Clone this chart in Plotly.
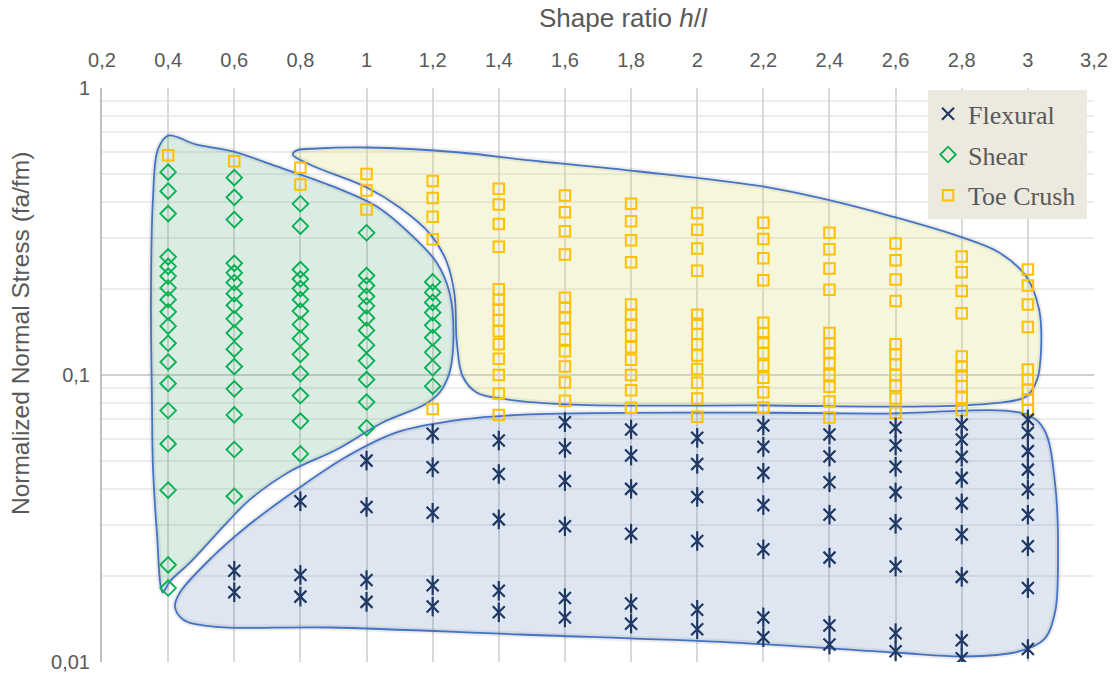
import plotly.graph_objects as go

# ---------------- data ----------------
x_tick_vals = [0.2, 0.4, 0.6, 0.8, 1.0, 1.2, 1.4, 1.6, 1.8, 2.0, 2.2, 2.4, 2.6, 2.8, 3.0, 3.2]
x_tick_text = ["0,2", "0,4", "0,6", "0,8", "1", "1,2", "1,4", "1,6", "1,8", "2", "2,2", "2,4", "2,6", "2,8", "3", "3,2"]
y_tick_vals = [0.01, 0.1, 1]
y_tick_text = ["0,01", "0,1", "1"]
y_minor_vals = [0.02, 0.03, 0.04, 0.05, 0.06, 0.07, 0.08, 0.09,
                0.2, 0.3, 0.4, 0.5, 0.6, 0.7, 0.8, 0.9]

flexural_ratio = [0.6, 0.8, 1.0, 1.2, 1.4, 1.6, 1.8, 2.0, 2.2, 2.4, 2.6, 2.8, 3.0]
flexural_stress = [
    [0.0208, 0.0175],
    [0.0363, 0.0201, 0.0169],
    [0.0503, 0.0347, 0.0193, 0.0162],
    [0.0624, 0.0477, 0.0331, 0.0185, 0.0156],
    [0.0591, 0.0452, 0.0314, 0.0177, 0.0149],
    [0.0685, 0.0557, 0.0427, 0.0297, 0.0167, 0.0143],
    [0.0646, 0.0524, 0.0401, 0.0280, 0.0160, 0.0136],
    [0.0604, 0.0490, 0.0376, 0.0264, 0.0152, 0.0130],
    [0.0667, 0.0562, 0.0456, 0.0352, 0.0247, 0.0143, 0.0122],
    [0.0620, 0.0520, 0.0423, 0.0326, 0.0231, 0.0134, 0.0115],
    [0.0656, 0.0568, 0.0479, 0.0390, 0.0303, 0.0215, 0.0126, 0.0109],
    [0.0672, 0.0596, 0.0519, 0.0438, 0.0357, 0.0278, 0.0198, 0.0119, 0.0103],
    [0.0700, 0.0629, 0.0543, 0.0468, 0.0399, 0.0326, 0.0253, 0.0181, 0.0111],
]

shear_ratio = [0.4, 0.6, 0.8, 1.0, 1.2]
shear_stress = [
    [0.509, 0.437, 0.365, 0.258, 0.239, 0.221, 0.201, 0.183, 0.166, 0.148, 0.129, 0.111,
     0.0934, 0.0752, 0.0576, 0.0397, 0.0218, 0.0181],
    [0.487, 0.416, 0.348, 0.245, 0.227, 0.210, 0.192, 0.175, 0.157, 0.140, 0.123, 0.107,
     0.0895, 0.0726, 0.0550, 0.0378],
    [0.395, 0.330, 0.233, 0.216, 0.200, 0.183, 0.167, 0.150, 0.134, 0.118, 0.101, 0.0848,
     0.0691, 0.0531],
    [0.313, 0.222, 0.205, 0.188, 0.174, 0.158, 0.143, 0.127, 0.112, 0.0964, 0.0805, 0.0655],
    [0.211, 0.194, 0.179, 0.165, 0.149, 0.135, 0.120, 0.106, 0.0914],
]

toe_ratio = [0.4, 0.6, 0.8, 1.0, 1.2, 1.4, 1.6, 1.8, 2.0, 2.2, 2.4, 2.6, 2.8, 3.0]
toe_stress = [
    [0.583],
    [0.556],
    [0.527, 0.461],
    [0.502, 0.439, 0.377],
    [0.474, 0.414, 0.356, 0.297, 0.0762],
    [0.446, 0.393, 0.336, 0.280, 0.199, 0.183, 0.169, 0.155, 0.142, 0.128, 0.114, 0.100, 0.0862, 0.0725],
    [0.422, 0.369, 0.317, 0.263, 0.186, 0.172, 0.159, 0.145, 0.133, 0.121, 0.107, 0.0942, 0.0813],
    [0.395, 0.343, 0.295, 0.247, 0.176, 0.162, 0.150, 0.137, 0.125, 0.113, 0.100, 0.0885, 0.0769],
    [0.367, 0.321, 0.276, 0.231, 0.162, 0.151, 0.139, 0.128, 0.117, 0.105, 0.0939, 0.0828, 0.0716],
    [0.339, 0.298, 0.255, 0.214, 0.152, 0.140, 0.130, 0.119, 0.108, 0.0978, 0.0871, 0.0770],
    [0.313, 0.274, 0.235, 0.198, 0.140, 0.129, 0.119, 0.110, 0.100, 0.0910, 0.0808, 0.0711],
    [0.287, 0.251, 0.215, 0.181, 0.128, 0.118, 0.109, 0.100, 0.0918, 0.0828, 0.0739],
    [0.259, 0.228, 0.196, 0.164, 0.116, 0.107, 0.0996, 0.0914, 0.0833, 0.0754],
    [0.233, 0.205, 0.176, 0.147, 0.1045, 0.0964, 0.0890, 0.0822, 0.0755],
]

# hand-drawn failure-mode regions (outline in data units: shape ratio, stress)
shear_zone_ratio = [0.40, 0.484, 0.596, 0.729, 0.898, 1.031, 1.140, 1.212, 1.251, 1.263, 1.251, 1.221,
                    1.176, 1.049, 0.910, 0.768, 0.647, 0.578, 0.466, 0.405, 0.384, 0.366, 0.354,
                    0.351, 0.348, 0.354, 0.369, 0.40]
shear_zone_stress = [0.683, 0.636, 0.601, 0.533, 0.454, 0.3865, 0.304, 0.2466, 0.1939, 0.1362, 0.1020,
                     0.0869, 0.0789, 0.0683, 0.0550, 0.0461, 0.0368, 0.0306, 0.0222, 0.01908, 0.01747,
                     0.0283, 0.0480, 0.0822, 0.1833, 0.409, 0.611, 0.683]

toe_zone_ratio = [0.789, 0.850, 1.001, 1.282, 1.472, 1.825, 2.218, 2.390, 2.590, 2.792, 2.913, 2.995,
                  3.034, 3.040, 3.028, 2.995, 2.892, 2.692, 2.218, 1.623, 1.424, 1.333, 1.291, 1.273,
                  1.266, 1.242, 1.191, 1.100, 1.001, 0.828, 0.777, 0.789]
toe_zone_stress = [0.606, 0.6155, 0.6205, 0.596, 0.5633, 0.5117, 0.450, 0.409, 0.3566, 0.304, 0.2672,
                   0.2204, 0.1691, 0.1227, 0.0964, 0.0842, 0.0796, 0.0777, 0.0783, 0.0789, 0.0822,
                   0.0869, 0.0988, 0.1298, 0.1908, 0.2486, 0.3112, 0.3835, 0.450, 0.5415, 0.5865, 0.606]

flex_zone_ratio = [0.4205, 0.4357, 0.5353, 0.638, 0.789, 0.940, 1.091, 1.291, 1.493, 2.004, 2.541, 2.995,
                   3.049, 3.082, 3.091, 3.082, 3.049, 2.973, 2.810, 2.596, 2.109, 1.463, 0.889, 0.535,
                   0.445, 0.4205]
flex_zone_stress = [0.01561, 0.01747, 0.02332, 0.02966, 0.0399, 0.0520, 0.0631, 0.0700, 0.0729, 0.0740,
                    0.0734, 0.0729, 0.0646, 0.0422, 0.0215, 0.01488, 0.01198, 0.01088, 0.01045, 0.01079,
                    0.01169, 0.01247, 0.01319, 0.01329, 0.01406, 0.01561]


def expand(ratios, stresses):
    xs, ys = [], []
    for r, col in zip(ratios, stresses):
        xs.extend([r] * len(col))
        ys.extend(col)
    return xs, ys


fig = go.Figure()

OUTLINE = "#4472C4"
zones = [
    (shear_zone_ratio, shear_zone_stress, "rgba(76,160,110,0.20)"),
    (toe_zone_ratio, toe_zone_stress, "rgba(222,222,120,0.26)"),
    (flex_zone_ratio, flex_zone_stress, "rgba(90,130,190,0.20)"),
]
for zx, zy, fillc in zones:
    fig.add_trace(go.Scatter(x=zx, y=zy, mode="lines",
                             line=dict(color="rgba(0,0,0,0.07)", width=6, shape="spline", smoothing=1.0),
                             hoverinfo="skip", showlegend=False))
for zx, zy, fillc in zones:
    fig.add_trace(go.Scatter(x=zx, y=zy, mode="lines", fill="toself", fillcolor=fillc,
                             line=dict(color=OUTLINE, width=1.8, shape="spline", smoothing=1.0),
                             hoverinfo="skip", showlegend=False))

fx, fy = expand(flexural_ratio, flexural_stress)
sx, sy = expand(shear_ratio, shear_stress)
tx, ty = expand(toe_ratio, toe_stress)

NAVY = "#1F3864"
GREEN = "#00B050"
GOLD = "#FFC000"
NB = "\u00a0"

fig.add_trace(go.Scatter(x=tx, y=ty, mode="markers", name="Toe Crush" + NB, legendrank=3, legendgroup="c",
                         marker=dict(symbol="square-open", size=10.5, color=GOLD, line=dict(width=2, color=GOLD))))
fig.add_trace(go.Scatter(x=sx, y=sy, mode="markers", name="Shear", legendrank=2, legendgroup="b",
                         marker=dict(symbol="diamond-open", size=12, color=GREEN, line=dict(width=1.8, color=GREEN))))
# flexural stars drawn as X + vertical bar
fig.add_trace(go.Scatter(x=fx, y=fy, mode="markers", name="Flexural-bar", showlegend=False,
                         marker=dict(symbol="line-ns-open", size=14, color=NAVY, line=dict(width=2.2, color=NAVY))))
fig.add_trace(go.Scatter(x=fx, y=fy, mode="markers", name="Flexural", legendrank=1, legendgroup="a",
                         marker=dict(symbol="x-thin-open", size=12, color=NAVY, line=dict(width=2.2, color=NAVY))))

TXT = "#595959"
fig.update_layout(
    width=1114, height=675,
    margin=dict(l=102, r=20, t=88, b=13),
    paper_bgcolor="white", plot_bgcolor="white",
    font=dict(family="Liberation Sans, Arial, sans-serif", color=TXT, size=20),
    showlegend=True,
    legend=dict(x=0.8327, y=0.996, xanchor="left", yanchor="top", bgcolor="#ECE9DF",
                font=dict(family="Liberation Serif, serif", size=26, color=TXT),
                tracegroupgap=4, itemwidth=30),
    xaxis=dict(range=[0.2, 3.2], side="top", tickvals=x_tick_vals, ticktext=x_tick_text,
               showgrid=True, gridcolor="#D9D9D9", gridwidth=1.5, zeroline=False, automargin=False,
               ticks="outside", ticklen=12, tickcolor="rgba(0,0,0,0)",
               tickfont=dict(size=20, color=TXT), showline=False),
    yaxis=dict(type="log", range=[-2, 0], tickvals=y_tick_vals, ticktext=y_tick_text,
               showgrid=True, gridcolor="#D0D0D0", gridwidth=2, zeroline=False, automargin=False,
               showline=True, linecolor="#BFBFBF", linewidth=2,
               ticks="outside", ticklen=6, tickcolor="rgba(0,0,0,0)",
               tickfont=dict(size=20, color=TXT),
               minor=dict(tickmode="array", tickvals=y_minor_vals,
                          showgrid=True, gridcolor="#EDEDED", gridwidth=1.5, ticks="")),
    annotations=[
        dict(text="Shape ratio <i>h</i>/<i>l</i>", xref="paper", yref="paper", x=0.526, y=1.122,
             xanchor="center", yanchor="middle", showarrow=False, font=dict(size=26, color=TXT)),
        dict(text="Normalized Normal Stress (fa/fm)", xref="paper", yref="paper", x=-0.0827, y=0.573,
             xanchor="center", yanchor="middle", textangle=-90, showarrow=False,
             font=dict(size=24.5, color=TXT)),
    ],
)

fig.write_html("out.html", config={"displayModeBar": False},
               post_script="document.body.style.margin='0px';")
